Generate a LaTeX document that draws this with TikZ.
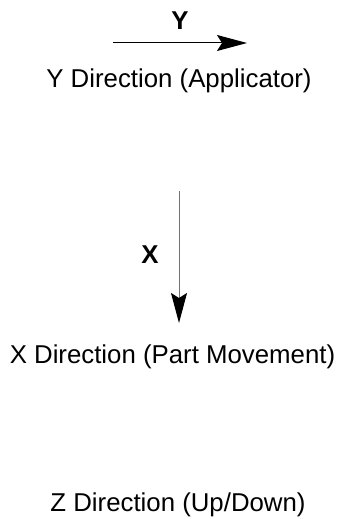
\documentclass[tikz,border=0pt]{standalone}
\usepackage{fontspec}
\setmainfont{Liberation Sans}
\usetikzlibrary{arrows.meta,positioning}

\begin{document}
\begin{tikzpicture}[x=1pt,y=1pt,
  lbl/.style={inner sep=0pt,anchor=base,font=\fontsize{25.8}{30}\selectfont},
  axlbl/.style={inner sep=0pt,anchor=base,font=\fontsize{25.8}{30}\selectfont\bfseries},
  dirarrow/.style={line width=1pt,-{Stealth[length=30pt,width=16pt,inset=5pt,black]}}]
  \useasboundingbox (0,0) rectangle (345,-519);
  % Y direction
  \coordinate (ystart) at (113,-43);
  \coordinate (yend) at (247,-43);
  \draw[dirarrow] (ystart) -- (yend);
  \node[axlbl] (ylab) at (180,-30) {Y};
  \node[lbl] (ytext) at (179,-87) {Y Direction (Applicator)};
  % X direction
  \coordinate (xstart) at (179,-191);
  \coordinate (xend) at (179,-323);
  \draw[dirarrow,draw=gray!90!black] (xstart) -- (xend);
  \node[axlbl] (xlab) at (150,-263) {X};
  \node[lbl] (xtext) at (172.5,-363) {X Direction (Part Movement)};
  % Z direction
  \node[lbl] (ztext) at (178,-511) {Z Direction (Up/Down)};
\end{tikzpicture}
\end{document}
